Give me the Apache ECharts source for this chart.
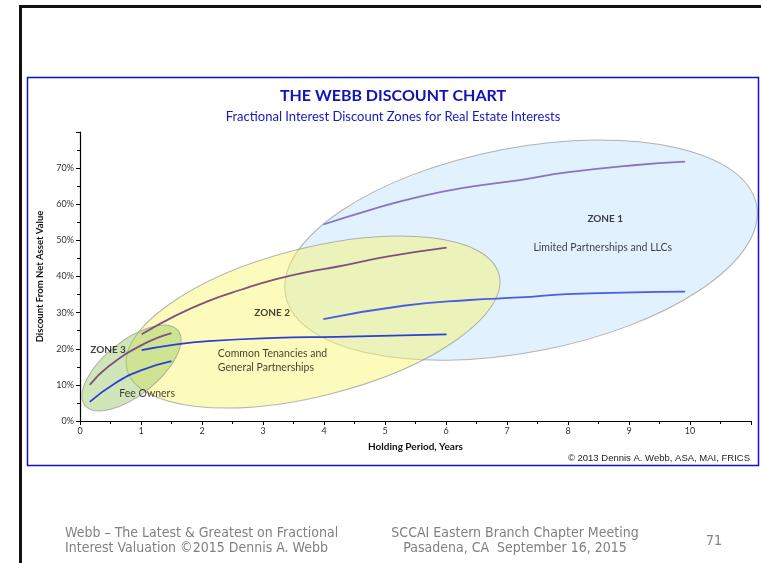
<!DOCTYPE html>
<html>
  <head>
    <meta charset="utf-8" />
    <script src="https://cdn.jsdelivr.net/npm/echarts@6/dist/echarts.min.js"></script>
  </head>
  <body style="margin: 0">
    <div id="container" style="width: 761px; height: 563px"></div>
    <script type="text/javascript">
      // discount curves: [holding years, discount]
      var zone3Upper = [[0.16, 0.100], [0.46, 0.150], [1.01, 0.210], [1.50, 0.243]];
      var zone3Lower = [[0.16, 0.053], [0.57, 0.104], [1.01, 0.141], [1.50, 0.166]];
      var zone2Upper = [[1.01, 0.240], [1.56, 0.291], [2.10, 0.332], [2.65, 0.364], [3.20, 0.392], [3.74, 0.413], [4.21, 0.427], [5.03, 0.455], [6.01, 0.480]];
      var zone2Lower = [[1.01, 0.196], [1.50, 0.210], [2.10, 0.221], [3.20, 0.230], [4.21, 0.233], [6.01, 0.240]];
      var zone1Upper = [[3.99, 0.544], [4.75, 0.584], [5.57, 0.621], [6.39, 0.648], [7.21, 0.667], [7.98, 0.688], [9.07, 0.708], [9.92, 0.718]];
      var zone1Lower = [[3.99, 0.282], [5.30, 0.319], [6.39, 0.335], [7.21, 0.342], [7.98, 0.351], [9.07, 0.356], [9.92, 0.358]];

      // zones: [centre x, centre y, major axis end x, y, minor axis end x, y]
      var zoneNames = ["Zone 1", "Zone 2", "Zone 3"];
      var zoneShapes = [
        [7.23, 0.473, 11.09, 0.598, 7.55, 0.195],
        [3.82, 0.274, 6.87, 0.405, 4.12, 0.0755],
        [0.844, 0.1467, 1.607, 0.25, 1.123, 0.0883],
      ];
      var zoneFills = ["rgba(205,232,252,0.6)", "rgba(250,246,105,0.45)", "rgba(150,200,100,0.45)"];

      var zoneNotes = [
        ["ZONE 3", 0.46, 0.196],
        ["Fee Owners", 1.1, 0.077],
        ["ZONE 2", 3.15, 0.299],
        ["Common Tenancies and\nGeneral Partnerships", 2.26, 0.166],
        ["ZONE 1", 8.61, 0.559],
        ["Limited Partnerships and LLCs", 8.57, 0.479],
      ];

      var dom = document.getElementById("container");
      var myChart = echarts.init(dom);
      var font = "Lato";
      var footFont = "14px 'Liberation Sans Narrow', 'DejaVu Sans Condensed', 'DejaVu Sans', sans-serif";

      function curve(name, data, color) {
        return {
          name: name,
          type: "line",
          data: data,
          smooth: true,
          showSymbol: false,
          z: 5,
          lineStyle: { color: color, width: 1.8 },
        };
      }

      var option = {
        animation: false,
        backgroundColor: "#fff",
        grid: { left: 80, right: 10, top: 132, bottom: 142 },
        xAxis: {
          type: "value",
          min: 0,
          max: 11,
          interval: 1,
          name: "Holding Period, Years",
          nameLocation: "middle",
          nameGap: 21,
          nameTextStyle: { fontFamily: font, fontWeight: "bold", fontSize: 10, color: "#111" },
          axisLine: { lineStyle: { color: "#000", width: 1.2 } },
          axisTick: { length: 4, lineStyle: { color: "#000" } },
          minorTick: { show: true, splitNumber: 2, length: 3, lineStyle: { color: "#000" } },
          axisLabel: { showMaxLabel: false, fontFamily: font, fontSize: 9, color: "#333", margin: 6 },
          splitLine: { show: false },
        },
        yAxis: {
          type: "value",
          min: 0,
          max: 0.8,
          interval: 0.1,
          name: "Discount From Net Asset Value",
          nameLocation: "middle",
          nameGap: 35,
          nameTextStyle: { fontFamily: font, fontWeight: "bold", fontSize: 9.5, color: "#111" },
          axisLine: { show: true, lineStyle: { color: "#000", width: 1.2 } },
          axisTick: { show: true, length: 4, lineStyle: { color: "#000" } },
          minorTick: { show: true, splitNumber: 2, length: 3, lineStyle: { color: "#000" } },
          axisLabel: {
            showMaxLabel: false,
            fontFamily: font,
            fontSize: 9,
            color: "#333",
            margin: 6,
            formatter: function (v) {
              return Math.round(v * 100) + "%";
            },
          },
          splitLine: { show: false },
        },
        series: [
          {
            name: "zones",
            type: "custom",
            data: zoneShapes,
            encode: { x: [0, 2, 4], y: [1, 3, 5] },
            z: 2,
            renderItem: function (params, api) {
              var c = api.coord([api.value(0), api.value(1)]);
              var m = api.coord([api.value(2), api.value(3)]);
              var n = api.coord([api.value(4), api.value(5)]);
              return {
                type: "ellipse",
                x: c[0],
                y: c[1],
                rotation: Math.atan2(c[1] - m[1], m[0] - c[0]),
                shape: {
                  cx: 0,
                  cy: 0,
                  rx: Math.hypot(m[0] - c[0], m[1] - c[1]),
                  ry: Math.hypot(n[0] - c[0], n[1] - c[1]),
                },
                style: { fill: zoneFills[params.dataIndex], stroke: "rgba(150,150,150,0.7)", lineWidth: 1 },
              };
            },
          },
          curve("Zone 3 high", zone3Upper, "#80507f"),
          curve("Zone 3 low", zone3Lower, "#2d3ed6"),
          curve("Zone 2 high", zone2Upper, "#80507f"),
          curve("Zone 2 low", zone2Lower, "#2d3ed6"),
          curve("Zone 1 high", zone1Upper, "#8a72c8"),
          curve("Zone 1 low", zone1Lower, "#4b5ce6"),
          {
            name: "notes",
            type: "scatter",
            symbolSize: 0,
            z: 6,
            data: zoneNotes.map(function (d) {
              var bold = d[0].indexOf("ZONE") === 0;
              var item = {
                value: [d[1], d[2]],
                name: d[0],
                label: { fontWeight: bold ? "bold" : "normal", fontSize: bold ? 10 : 10.5 },
              };
              if (d[0].indexOf("\n") > 0) {
                item.label.position = "right";
                item.label.distance = 0;
                item.label.align = "left";
              }
              return item;
            }),
            label: {
              show: true,
              position: "inside",
              fontFamily: font,
              color: "#111",
              lineHeight: 14,
              formatter: function (p) {
                return p.name;
              },
            },
          },
        ],
        graphic: [
          { type: "line", shape: { x1: 20, y1: 6.5, x2: 761, y2: 6.5 }, style: { stroke: "#111", lineWidth: 3 } },
          { type: "line", shape: { x1: 20.5, y1: 5, x2: 20.5, y2: 563 }, style: { stroke: "#111", lineWidth: 3 } },
          {
            type: "rect",
            shape: { x: 27.5, y: 77.5, width: 731, height: 388 },
            style: { fill: null, stroke: "#1010c8", lineWidth: 1.5 },
            z: 10,
          },
          {
            type: "text",
            x: 393,
            y: 96,
            style: { text: "THE WEBB DISCOUNT CHART", font: "bold 16px Lato", fill: "#1212b8", textAlign: "center", textVerticalAlign: "middle" },
          },
          {
            type: "text",
            x: 393,
            y: 117,
            style: { text: "Fractional Interest Discount Zones for Real Estate Interests", font: "13px Lato", fill: "#1818c0", textAlign: "center", textVerticalAlign: "middle" },
          },
          {
            type: "text",
            x: 750,
            y: 458,
            style: { text: "\u00a9 2013 Dennis A. Webb, ASA, MAI, FRICS", font: "9.5px 'Liberation Sans'", fill: "#222", textAlign: "right", textVerticalAlign: "middle" },
          },
          {
            type: "text",
            x: 65,
            y: 541,
            style: { text: "Webb \u2013 The Latest & Greatest on Fractional\nInterest Valuation \u00a92015 Dennis A. Webb", font: footFont, lineHeight: 15, fill: "#808080", textAlign: "left", textVerticalAlign: "middle" },
          },
          {
            type: "text",
            x: 515,
            y: 541,
            style: { text: "SCCAI Eastern Branch Chapter Meeting\nPasadena, CA  September 16, 2015", font: footFont, lineHeight: 15, fill: "#808080", textAlign: "center", textVerticalAlign: "middle" },
          },
          {
            type: "text",
            x: 714,
            y: 541,
            style: { text: "71", font: footFont, fill: "#808080", textAlign: "center", textVerticalAlign: "middle" },
          },
        ],
      };

      myChart.setOption(option);
    </script>
  </body>
</html>
